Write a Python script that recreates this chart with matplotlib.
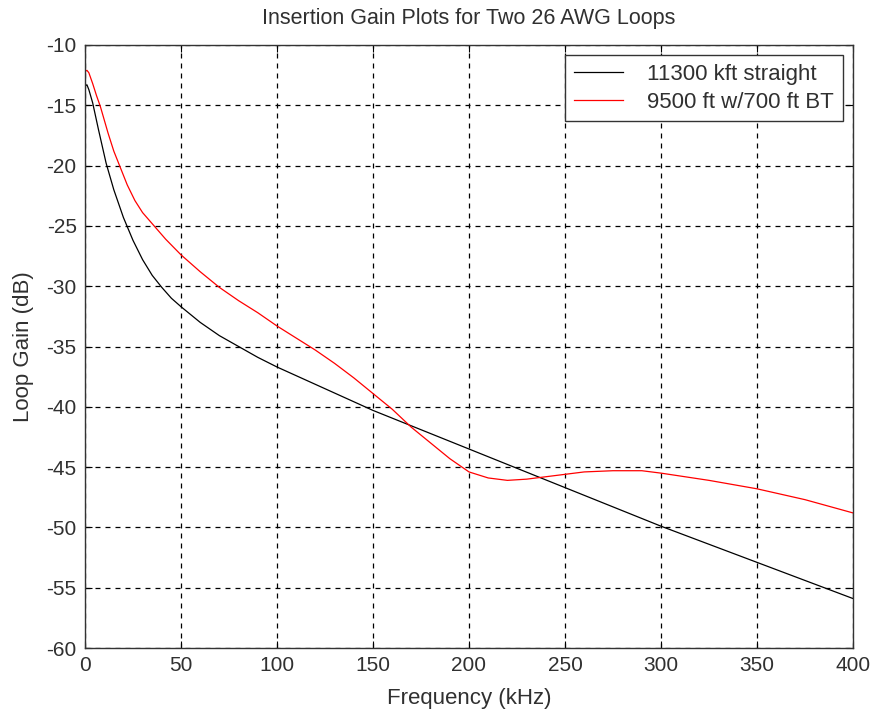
import matplotlib
matplotlib.use("Agg")
import matplotlib.pyplot as plt

plt.rcParams['font.family'] = ['Liberation Sans', 'DejaVu Sans']
plt.rcParams['axes.unicode_minus'] = False

freq_black = [0, 1, 2, 4, 7, 11, 15, 20, 25, 30, 35, 40, 45, 50, 60, 70, 80, 90, 100,
              125, 150, 175, 200, 225, 250, 275, 300, 325, 350, 375, 400]
gain_black = [-13.4, -13.3, -13.7, -14.8, -17.0, -19.8, -22.0, -24.3, -26.2, -27.8, -29.1,
              -30.1, -31.0, -31.7, -33.0, -34.1, -35.0, -35.9, -36.7,
              -38.5, -40.3, -41.9, -43.5, -45.1, -46.7, -48.3, -49.9, -51.4, -52.9, -54.4, -55.9]

freq_red = [0, 1, 2, 4, 6, 8, 12, 15, 18, 22, 26, 30, 36, 42, 50, 60, 70, 80, 90, 100,
            110, 120, 130, 140, 150, 160, 170, 180, 190, 200, 210, 220, 230, 240, 250,
            260, 275, 290, 300, 325, 350, 375, 400]
gain_red = [-12.2, -12.1, -12.3, -13.2, -14.2, -15.1, -17.3, -18.8, -20.0, -21.6, -22.9,
            -23.9, -25.0, -26.1, -27.4, -28.8, -30.1, -31.2, -32.2, -33.3,
            -34.3, -35.3, -36.4, -37.6, -38.9, -40.2, -41.7, -43.0, -44.3, -45.4, -45.9,
            -46.1, -46.0, -45.8, -45.6, -45.4, -45.3, -45.3, -45.5, -46.1, -46.8, -47.7, -48.8]

labels = ['11300 kft straight', '9500 ft w/700 ft BT']
xticks = [0, 50, 100, 150, 200, 250, 300, 350, 400]
yticks = [-10, -15, -20, -25, -30, -35, -40, -45, -50, -55, -60]

txt = '#303030'
fig = plt.figure(figsize=(8.73, 7.17), dpi=100)
ax = fig.add_axes([85/873, 1-648/717, (853-85)/873, (648-45)/717])
ax.plot(freq_black, gain_black, color='black', lw=0.9, label=labels[0])
ax.plot(freq_red, gain_red, color='#ff0000', lw=0.9, label=labels[1])
ax.set_xlim(0, 400)
ax.set_ylim(-60, -10)
ax.set_xticks(xticks)
ax.set_yticks(yticks)
ax.grid(True, color='black', linestyle=(0, (4, 4)), lw=0.9)
ax.tick_params(direction='in', top=True, right=True, labelsize=15, length=5,
               labelcolor=txt, pad=6)
for s in ax.spines.values():
    s.set_linewidth(1.0)
    s.set_color('#333333')
ax.set_xlabel('Frequency (kHz)', fontsize=16, labelpad=9, color=txt)
ax.set_ylabel('Loop Gain (dB)', fontsize=16, labelpad=9, color=txt)
ax.set_title('Insertion Gain Plots for Two 26 AWG Loops', fontsize=15.5, pad=15, color=txt)
leg = ax.legend(loc='upper right', fontsize=16, fancybox=False, framealpha=1,
                edgecolor='#333333', handlelength=2.2, borderaxespad=0.45,
                labelspacing=0.3, borderpad=0.4, handletextpad=1.1)
for t in leg.get_texts():
    t.set_color(txt)
leg.get_frame().set_linewidth(1.0)
fig.savefig('out.png', dpi=100)
